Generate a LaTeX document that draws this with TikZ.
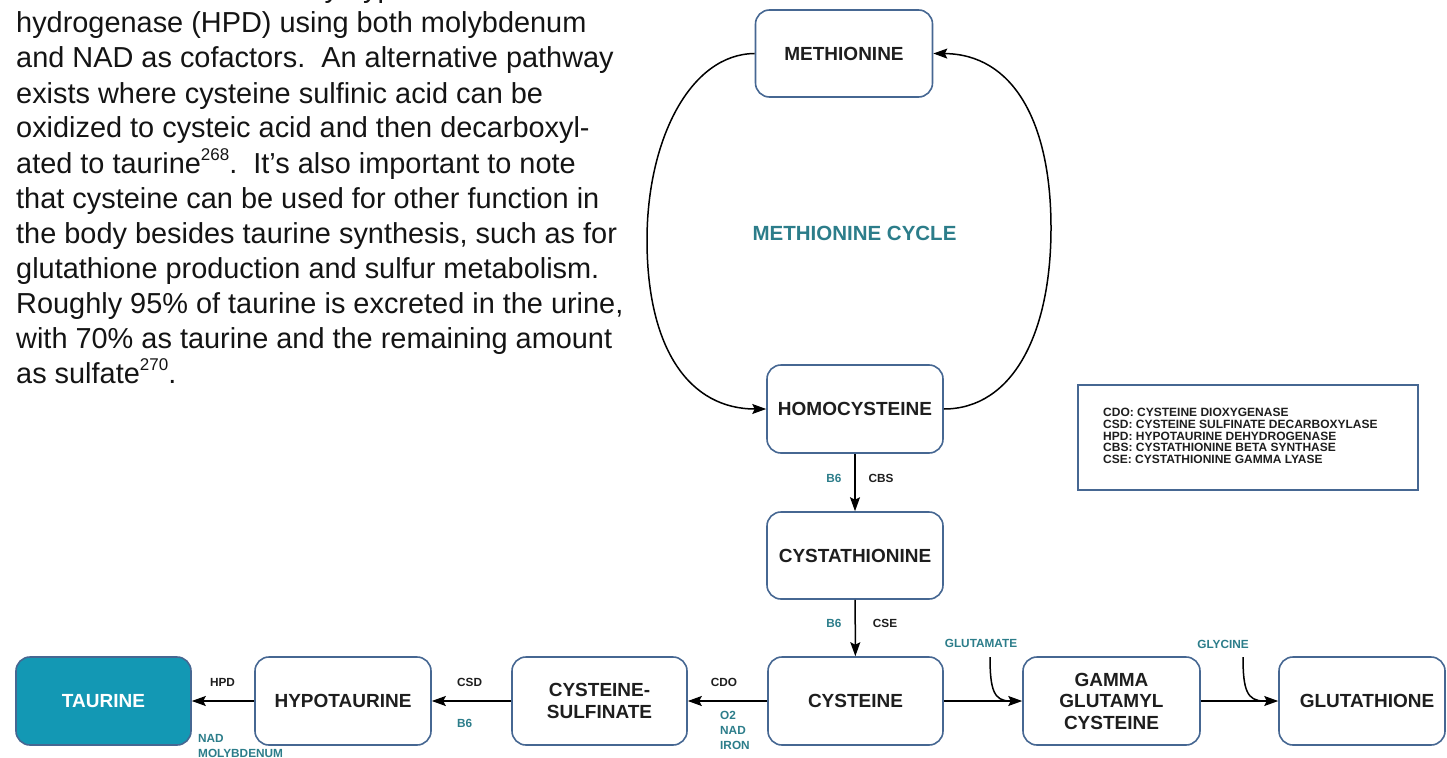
\documentclass[tikz,border=0pt]{standalone}
\usepackage{fontspec}
\setmainfont{Liberation Sans}
\usetikzlibrary{arrows.meta}
\definecolor{boxblue}{HTML}{466792}
\definecolor{tealtxt}{HTML}{2C7D8A}
\definecolor{taurfill}{HTML}{1398B4}
\definecolor{inkc}{HTML}{1E1E1E}
\newcommand\supnum[1]{\raisebox{0.42em}{\fontsize{17}{17}\selectfont #1}}

\begin{document}
\begin{tikzpicture}[x=1pt,y=-1pt,
  box/.style={draw=boxblue, line width=1.6pt, rounded corners=14pt,
    minimum width=175pt, minimum height=87pt, align=center, inner sep=0pt,
    text=inkc, font=\fontsize{19}{21.5}\selectfont\bfseries},
  lbl/.style={font=\fontsize{11.8}{15}\selectfont\bfseries, inner sep=0pt, text=inkc},
  cof/.style={lbl, text=tealtxt},
  arr/.style={-{Stealth[length=14pt,width=10pt,inset=2.5pt]}, line width=1.5pt, draw=black},
  link/.style={line width=1.5pt, draw=black},
  para/.style={anchor=base west, inner sep=0pt, font=\fontsize{28.9}{35}\selectfont, text=black!92}
]
\useasboundingbox (0,0) rectangle (1447,757);
\clip (0,0) rectangle (1447,757);

% body text column
\foreach \ln [count=\i from 0] in {
  {is converted to taurine by hypotaurine de-},
  {hydrogenase (HPD) using both molybdenum},
  {and NAD as cofactors.\ \ An alternative pathway},
  {exists where cysteine sulfinic acid can be},
  {oxidized to cysteic acid and then decarboxyl-},
  {ated to taurine\supnum{268}.\ \ It’s also important to note},
  {that cysteine can be used for other function in},
  {the body besides taurine synthesis, such as for},
  {glutathione production and sulfur metabolism.},
  {Roughly 95\% of taurine is excreted in the urine,},
  {with 70\% as taurine and the remaining amount},
  {as sulfate\supnum{270}.}
}{
  \node[para] (line-\i) at (16,{-2+35*\i}) {\ln};
}

% methionine cycle
\node[box, minimum width=177pt] (meth) at (844,53.5) {METHIONINE};
\node[box, minimum width=176pt, minimum height=88pt] (homo) at (855,409) {HOMOCYSTEINE};
\node[box, minimum width=176pt] (cysta) at (855,555.5) {CYSTATHIONINE};
\node[font=\fontsize{20.5}{22}\selectfont\bfseries, text=tealtxt, inner sep=0pt] (cycle) at (854.5,233) {METHIONINE CYCLE};

\draw[arr] (meth.west) .. controls (690,54) and (647,140) .. (647,240)
  .. controls (647,350) and (690,409) .. (homo.west);
\draw[arr] (homo.east) .. controls (1012,409) and (1051,335) .. (1051,228)
  .. controls (1051,120) and (1012,54) .. (meth.east);

% transsulfuration
\draw[arr] (homo) -- (cysta);
\node[cof] (b6a) at (834,478) {B6};
\node[lbl] (cbs) at (881,478) {CBS};

% bottom row
\node[box, minimum height=88pt] (cys) at (855.5,701) {CYSTEINE};
\draw[arr] (cysta) -- (cys);
\node[cof] (b6b) at (834,623) {B6};
\node[lbl] (cse) at (885,623) {CSE};

\node[box, minimum height=88pt] (cs) at (599.5,701) {CYSTEINE-\\SULFINATE};
\node[box, minimum width=176pt, minimum height=88pt] (hypo) at (343,701) {HYPOTAURINE};
\node[box, fill=taurfill, text=white, minimum height=88pt] (taur) at (103.5,701) {TAURINE};
\node[box, minimum width=177pt, minimum height=88pt] (ggc) at (1111.5,701) {GAMMA\\GLUTAMYL\\CYSTEINE};
\node[box, minimum width=166pt, minimum height=88pt] (glut) at (1362,701) {\hspace*{10pt}GLUTATHIONE};

\draw[arr] (cys) -- (cs);
\draw[arr] (cs) -- (hypo);
\draw[arr] (hypo) -- (taur);
\draw[arr] (cys) -- (ggc);
\draw[arr] (ggc) -- (glut);

\node[lbl] (cdo) at (724,682) {CDO};
\node[cof, anchor=north west, align=left, font=\fontsize{11.8}{15}\selectfont\bfseries] (cdocof) at (720,711) {O2\\NAD\\IRON};
\node[lbl, anchor=west] (csd) at (457,682) {CSD};
\node[cof, anchor=west] (b6c) at (457,723) {B6};
\node[lbl] (hpd) at (222.5,682) {HPD};
\node[cof, anchor=north west, align=left, font=\fontsize{11.8}{15}\selectfont\bfseries] (hpdcof) at (198,734) {NAD\\MOLYBDENUM};

% substrates joining the glutathione branch
\node[cof] (glu) at (981,643) {GLUTAMATE};
\coordinate (glu-in) at (990,657);
\coordinate (glu-join) at (1010,701);
\draw[link] (glu-in) .. controls (990,690) and (994,701) .. (glu-join);
\node[cof] (gly) at (1223,644) {GLYCINE};
\coordinate (gly-in) at (1243,657);
\coordinate (gly-join) at (1264,701);
\draw[link] (gly-in) .. controls (1243,690) and (1247,701) .. (gly-join);

% enzyme key
\node[draw=boxblue, line width=1.5pt, minimum width=340pt, minimum height=105pt, inner sep=0pt] (key) at (1248,437.5) {};
\node[anchor=west, align=left, inner sep=0pt, text=inkc, font=\fontsize{12}{11.8}\selectfont\bfseries] (keytxt) at (1103,436) {CDO: CYSTEINE DIOXYGENASE\\CSD: CYSTEINE SULFINATE DECARBOXYLASE\\HPD: HYPOTAURINE DEHYDROGENASE\\CBS: CYSTATHIONINE BETA SYNTHASE\\CSE: CYSTATHIONINE GAMMA LYASE};
\end{tikzpicture}
\end{document}
